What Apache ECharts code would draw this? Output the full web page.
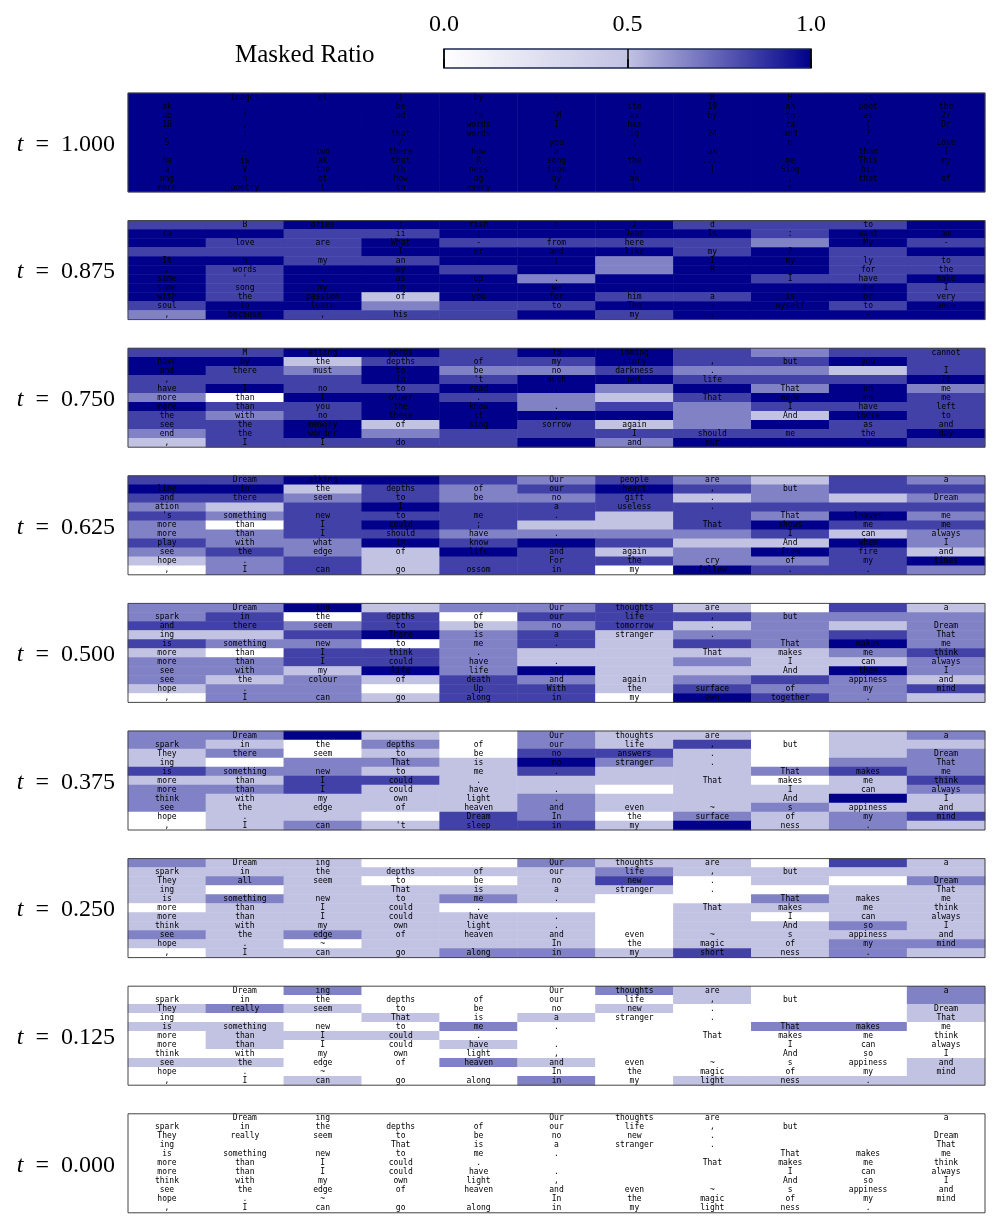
<!DOCTYPE html>
<html>
<head>
<meta charset="utf-8">
<script src="https://cdn.jsdelivr.net/npm/echarts@6/dist/echarts.min.js"></script>
<style>
  html, body { margin: 0; background: #fff; }
  #chart { width: 997px; height: 1226px; }
</style>
</head>
<body>
<div id="chart"></div>
<script>
// masked-ratio level of each cell: 0 white .. 4 navy (rows top to bottom, 11 columns)
const ratio_of_level = [0, 0.5, 0.667, 0.833, 1];
const t_values = ['1.000', '0.875', '0.750', '0.625', '0.500', '0.375', '0.250', '0.125', '0.000'];

const levels_t1000 = ['44444444444', '44444444444', '44444444444', '44444444444', '44444444444', '44444444444',
  '44444444444', '44444444444', '44444444444', '44444444444', '44444444444'];
const levels_t0875 = ['33444443334', '44334444344', '43343333243', '33344443434', '44334424433', '43443424433',
  '43444244334', '43444444443', '43414433443', '34423344434', '24333434444'];
const levels_t0750 = ['33443443233', '44133343343', '43242232213', '33343443334', '34334424242', '20443213443',
  '43344232333', '32344442143', '33414312433', '23423333334', '13333424443'];
const levels_t0625 = ['33443232132', '44132343233', '33232231212', '21343333333', '32333313242', '20343113433',
  '22332222312', '32243431142', '23214312431', '12313332234', '02313304332'];
const levels_t0500 = ['22412231031', '23030333222', '33231231212', '11342312232', '32202313242', '10332111123',
  '22332112112', '22142411142', '21213212321', '12203313223', '02213304321'];
const levels_t0375 = ['22410211012', '21020213011', '12010331012', '10221421022', '32211311232', '11331111013',
  '22311101112', '21111211141', '21111211211', '01103202123', '01213314121'];
const levels_t0250 = ['21100211031', '11111121111', '12100130102', '10111110011', '12112100211', '01110001111',
  '11111101011', '11111101121', '21211101111', '11011101122', '01112213121'];
const levels_t0125 = ['00200021002', '00000001002', '12100010001', '00010100001', '11002000220', '01110000000',
  '01001000000', '00000000000', '11002100001', '00000000001', '00100201111'];
const levels_t0000 = ['00000000000', '00000000000', '00000000000', '00000000000', '00000000000', '00000000000',
  '00000000000', '00000000000', '00000000000', '00000000000', '00000000000'];

// tokens shown in each cell, "|" separated
const tokens_t1000 = ['|Images|el|)|by|-||R|H|is|', 'ak|||be|||ite|19|ah|poet|the', "ab|!||ad|'s|'M|as|by|to|as|27",
  '18|,|||words|I|has||ra|(|Dr', '-|:||that|words||ig|24|and|?|', 'S|||/||you|:||n|-|Love',
  '|-|two|there|how|a||ak||than|I', 'ha|is|ak|that|R|song|the|....|me|This|my', 'a|V|the|Th|ness|from|,|]|Sing|his|',
  'ang|n|ot|how|ag|ay|an||,|that|of', 'more|poetry|t|to|every|k|L||s|-|'];
const tokens_t0875 = ['|B|ories|:|rish|:|2|d||to|', 'ra|||ii|:||Dear|Is|:|want|am', '|love|are|What|-|from|here|||My|-',
  '|||I|er|and|like|my|?||', 'It|n|my|an|.|;||I|my|ly|to', ',|words||my||||B||for|the',
  "same|'|.|as|up|.|||I|have|make", 'same|song|my|in|,|we|.|||me|I', 'with|the|passion|of|you|for|him|a|is|or|very',
  'soul|to|learn|||to|The|-|myself|to|ance', ',|because|,|his|||my|.||-|'];
const tokens_t0750 = ['|M|ailing|words||To|imming||||cannot', 'have|by|the|depths|of|my|story|,|but|you|',
  'and|there|must|to|be|no|darkness|.|||I', ",|||In|'t|much|not|life|||It", 'have|I|no|to|read|,|||That|on|me',
  'more|than|I|other|.|||That|made|me|me', 'more|than|you|the|know|.|||I|have|left', 'the|with|no|these|it|,|||And|there|to',
  'see|the|memory|of|sing|sorrow|again|||as|and', 'end|the|wonder||||I|should|me|the|day', ',|I|I|do|||and|our||-|'];
const tokens_t0625 = ['|Dream|alking|||Our|people|are|||a', 'line|in|the|depths|of|our|heart|,|but||',
  'and|there|seem|to|be|no|gift|.|||Dream', 'ation|||I||a|useless|.|||', "'s|something|new|to|me|.|||That|leaves|me",
  'more|than|I|could|;|||That|shows|me|me', 'more|than|I|should|have|.|||I|can|always', 'play|with|what|in|know|.|||And|when|I',
  'see|the|edge|of|life|and|again||from|fire|and', 'hope|.||||For|the|cry|of|my|times', ',|I|can|go|ossom|in|my|fellow|.|.|'];
const tokens_t0500 = ['|Dream|ing|||Our|thoughts|are|||a', 'spark|in|the|depths|of|our|life|,|but||',
  'and|there|seem|to|be|no|tomorrow|.|||Dream', 'ing|||There|is|a|stranger|.|||That', 'is|something|new|to|me|.|||That|makes|me',
  'more|than|I|think|.|||That|makes|me|think', 'more|than|I|could|have|.|||I|can|always', 'see|with|my|life|life|.|||And|then|I',
  'see|the|colour|of|death|and|again|||appiness|and', 'hope|.|||Up|With|the|surface|of|my|mind', ',|I|can|go|along|in|my|own|together|.|'];
const tokens_t0375 = ['|Dream||||Our|thoughts|are|||a', 'spark|in|the|depths|of|our|life|,|but||',
  'They|there|seem|to|be|no|answers|.|||Dream', 'ing|||That|is|no|stranger|.|||That', 'is|something|new|to|me|.|||That|makes|me',
  'more|than|I|could|.|||That|makes|me|think', 'more|than|I|could|have|.|||I|can|always', 'think|with|my|own|light|.|||And||I',
  'see|the|edge|of|heaven|and|even|~|s|appiness|and', 'hope|.|||Dream|In|the|surface|of|my|mind', ",|I|can|'t|sleep|in|my||ness|.|"];
const tokens_t0250 = ['|Dream|ing|||Our|thoughts|are|||a', 'spark|in|the|depths|of|our|life|,|but||',
  'They|all|seem|to|be|no|new|.|||Dream', 'ing|||That|is|a|stranger|.|||That', 'is|something|new|to|me|.|||That|makes|me',
  'more|than|I|could|.|||That|makes|me|think', 'more|than|I|could|have|.|||I|can|always', 'think|with|my|own|light|.|||And|so|I',
  'see|the|edge|of|heaven|and|even|~|s|appiness|and', 'hope|.|~|||In|the|magic|of|my|mind', ',|I|can|go|along|in|my|short|ness|.|'];
const tokens_t0125 = ['|Dream|ing|||Our|thoughts|are|||a', 'spark|in|the|depths|of|our|life|,|but||',
  'They|really|seem|to|be|no|new|.|||Dream', 'ing|||That|is|a|stranger|.|||That', 'is|something|new|to|me|.|||That|makes|me',
  'more|than|I|could|.|||That|makes|me|think', 'more|than|I|could|have|.|||I|can|always', 'think|with|my|own|light|,|||And|so|I',
  'see|the|edge|of|heaven|and|even|~|s|appiness|and', 'hope|.|~|||In|the|magic|of|my|mind', ',|I|can|go|along|in|my|light|ness|.|'];
const tokens_t0000 = tokens_t0125;

const colorbar_ticks = [0, 0.5, 1];

const panels = [
  [levels_t1000, tokens_t1000], [levels_t0875, tokens_t0875], [levels_t0750, tokens_t0750],
  [levels_t0625, tokens_t0625], [levels_t0500, tokens_t0500], [levels_t0375, tokens_t0375],
  [levels_t0250, tokens_t0250], [levels_t0125, tokens_t0125], [levels_t0000, tokens_t0000]
];

const cmap = ['#ffffff', '#c2c2e3', '#00008b'];
const idx = [0, 1, 2, 3, 4, 5, 6, 7, 8, 9, 10];

const grids = [], xAxes = [], yAxes = [], series = [];

// colour bar
grids.push({ left: 444, top: 49, width: 367, height: 19, show: true, borderColor: '#1c2a52', borderWidth: 1.5, z: 5 });
xAxes.push({
  gridIndex: 0, type: 'value', min: 0, max: 1, interval: 0.5, position: 'top', z: 6,
  axisLine: { show: false },
  axisTick: { show: true, length: 9, lineStyle: { color: '#000', width: 1.5 } },
  axisLabel: { margin: 12, fontFamily: 'Liberation Serif', fontSize: 24, color: '#000',
    formatter: v => colorbar_ticks.indexOf(v) >= 0 ? v.toFixed(1) : '' },
  splitLine: { show: true, lineStyle: { color: '#000', width: 1.5 } }
});
yAxes.push({ gridIndex: 0, type: 'value', min: 0, max: 1, show: false });
series.push({
  type: 'custom', xAxisIndex: 0, yAxisIndex: 0, data: [[0, 0]], silent: true,
  renderItem: (params, api) => {
    const a = api.coord([0, 1]), b = api.coord([1, 0]);
    return {
      type: 'rect',
      shape: { x: a[0], y: a[1], width: b[0] - a[0], height: b[1] - a[1] },
      style: { fill: new echarts.graphic.LinearGradient(0, 0, 1, 0, [
        { offset: 0, color: cmap[0] }, { offset: 0.5, color: cmap[1] }, { offset: 1, color: cmap[2] }]) }
    };
  }
});

panels.forEach((p, i) => {
  const gi = i + 1;
  grids.push({ left: 128, width: 857, top: 93 + i * 127.6, height: 99, show: true, borderColor: '#444', borderWidth: 1, z: 3 });
  xAxes.push({ gridIndex: gi, type: 'category', data: idx, show: false });
  yAxes.push({
    gridIndex: gi, type: 'category', data: idx, inverse: true,
    axisLine: { show: false }, axisTick: { show: false }, axisLabel: { show: false }, splitLine: { show: false },
    name: '{i|t}  =  ' + t_values[i], nameLocation: 'middle', nameRotate: 0, nameGap: 13,
    nameTextStyle: { fontFamily: 'Liberation Serif', fontSize: 24, color: '#000', padding: [4, 0, 0, 0],
      rich: { i: { fontFamily: 'Liberation Serif', fontStyle: 'italic', fontSize: 24, color: '#000' } } }
  });
  const data = [];
  p[0].forEach((row, r) => {
    const toks = p[1][r].split('|');
    for (let c = 0; c < 11; c++) {
      data.push({ value: [c, r, ratio_of_level[+row[c]]], tok: toks[c] || '' });
    }
  });
  series.push({
    type: 'heatmap', xAxisIndex: gi, yAxisIndex: gi, data: data, silent: true,
    itemStyle: { borderWidth: 0 },
    label: { show: true, formatter: q => q.data.tok, fontFamily: 'DejaVu Sans Mono', fontSize: 8, color: '#000' },
    emphasis: { disabled: true }
  });
});

const chart = echarts.init(document.getElementById('chart'));
chart.setOption({
  animation: false,
  backgroundColor: '#fff',
  title: { text: 'Masked Ratio', left: 230, top: 38,
    textStyle: { fontFamily: 'Liberation Serif', fontSize: 25, fontWeight: 'normal', color: '#000' } },
  visualMap: { type: 'continuous', show: false, min: 0, max: 1, seriesIndex: [1, 2, 3, 4, 5, 6, 7, 8, 9],
    inRange: { color: cmap } },
  grid: grids,
  xAxis: xAxes,
  yAxis: yAxes,
  series: series
});
</script>
</body>
</html>
